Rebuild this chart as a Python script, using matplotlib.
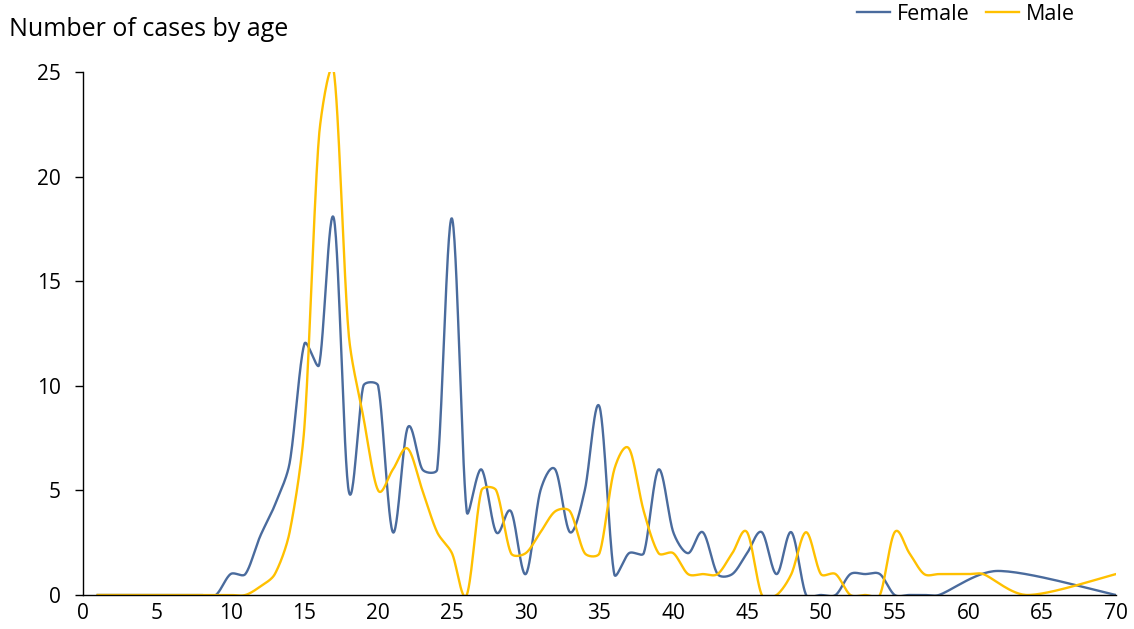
import numpy as np
import matplotlib.pyplot as plt

plt.rcParams['font.family'] = ['Open Sans', 'DejaVu Sans']

# ages / counts
female_age = list(range(1, 59)) + [62, 70]
female_cnt = [0, 0, 0, 0, 0, 0, 0, 0, 0,          # 1-9
              1, 1, 2.8, 4.3, 6.3, 12, 11, 18, 5, 10, 10,   # 10-20
              3, 8, 6, 6, 18, 4, 6, 3, 4, 1,        # 21-30
              5, 6, 3, 5, 9, 1, 2, 2, 6, 3,         # 31-40
              2, 3, 1, 1, 2, 3, 1, 3, 0, 0,         # 41-50
              0, 1, 1, 1, 0, 0, 0, 0,               # 51-58
              1.15, 0]                              # 62, 70

male_age = list(range(1, 62)) + [64, 70]
male_cnt = [0, 0, 0, 0, 0, 0, 0, 0, 0, 0, 0,      # 1-11
            0.4, 1, 3, 8, 22, 25, 12.5, 8.5, 5,     # 12-20
            6, 7, 5, 3, 2, 0, 5, 5, 2, 2,          # 21-30
            3, 4, 4, 2, 2, 6, 7, 4, 2, 2,          # 31-40
            1, 1, 1, 2, 3, 0, 0, 1, 3, 1,          # 41-50
            1, 0, 0, 0, 3, 2, 1, 1, 1, 1, 1,       # 51-61
            0, 1]                                  # 64, 70

# pixel size of one unit on each axis, so the smoothing works in screen space
PX_X, PX_Y = 1033 / 70, 523 / 25


def smooth(xs, ys, n=30):
    # Excel-like smoothed line: bezier through every point; handle is the
    # catmull-rom one, but never longer than a third of the segment
    p = np.column_stack([np.array(xs) * PX_X, np.array(ys) * PX_Y]).astype(float)
    m = len(p)
    tang = np.zeros_like(p)
    for i in range(m):
        tang[i] = (p[min(i + 1, m - 1)] - p[max(i - 1, 0)]) / 6
    t = np.linspace(0, 1, n)[:, None]
    out = []
    for i in range(m - 1):
        p1, p2 = p[i], p[i + 1]
        L = np.hypot(*(p2 - p1)) / 3
        h1, h2 = tang[i], tang[i + 1]
        n1, n2 = np.hypot(*h1), np.hypot(*h2)
        if n1 > L:
            h1 = h1 * L / n1
        if n2 > L:
            h2 = h2 * L / n2
        c1 = p1 + h1
        c2 = p2 - h2
        seg = ((1 - t) ** 3) * p1 + 3 * ((1 - t) ** 2) * t * c1 + 3 * (1 - t) * t ** 2 * c2 + t ** 3 * p2
        out.append(seg if i == 0 else seg[1:])
    s = np.vstack(out)
    return s[:, 0] / PX_X, s[:, 1] / PX_Y


fig = plt.figure(figsize=(11.34, 6.29), dpi=100)
ax = fig.add_axes([83 / 1134, 34 / 629, 1033 / 1134, 523 / 629])

fx, fy = smooth(female_age, female_cnt)
mx, my = smooth(male_age, male_cnt)
ax.plot(fx, fy, color='#4a6b9d', lw=1.7, label='Female')
ax.plot(mx, my, color='#ffc000', lw=1.7, label='Male')

ax.set_xlim(0, 70)
ax.set_ylim(0, 25)
ax.set_xticks(range(0, 71, 5))
ax.set_yticks(range(0, 26, 5))
for s in ['top', 'right']:
    ax.spines[s].set_visible(False)
for s in ['left', 'bottom']:
    ax.spines[s].set_color('#000000')
    ax.spines[s].set_linewidth(1.0)
    ax.spines[s].set_zorder(3)
ax.tick_params(axis='y', length=5.8, width=1.0, pad=10, labelsize=15)
ax.tick_params(axis='x', length=0, pad=6, labelsize=15)

fig.text(9 / 1134, 1 - 36 / 629, 'Number of cases by age', fontsize=18, va='baseline', ha='left')
fig.legend(loc='center right', bbox_to_anchor=(1075 / 1134, 1 - 14 / 629), ncol=2, frameon=False,
           borderaxespad=0, borderpad=0,
           fontsize=15.5, handlelength=1.53, handletextpad=0.33, columnspacing=0.74)

fig.savefig('out.png', dpi=100)
